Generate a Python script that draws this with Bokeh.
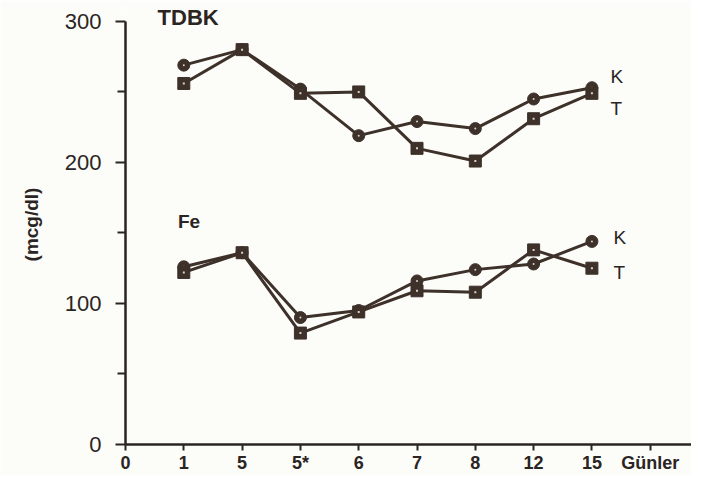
from bokeh.plotting import figure
from bokeh.models import FixedTicker, Label, Range1d
from bokeh.embed import file_html
from bokeh.resources import INLINE

# ---- data ----
day_labels = ["1", "5", "5*", "6", "7", "8", "12", "15"]
tick_labels = ["0"] + day_labels + ["Günler"]
tdbk_K = [269, 280, 252, 219, 229, 224, 245, 253]
tdbk_T = [256, 280, 249, 250, 210, 201, 231, 249]
fe_K = [126, 136, 90, 95, 116, 124, 128, 144]
fe_T = [122, 136, 79, 94, 109, 108, 138, 125]
y_ticks = [0, 100, 200, 300]
y_minor = [50, 150, 250]

xs = list(range(1, len(day_labels) + 1))
INK = "#3d312a"
AX = "#2a2522"
BG = "#fcfcf9"

p = figure(width=691, height=475, output_backend="svg", toolbar_location=None,
           x_range=Range1d(0, 9.708), y_range=Range1d(0, 312),
           min_border_left=125, min_border_right=0, min_border_top=4,
           min_border_bottom=30, background_fill_color=BG, border_fill_color=BG)
p.outline_line_color = None
p.grid.visible = False

# axes
p.xaxis.ticker = FixedTicker(ticks=list(range(len(tick_labels))))
p.xaxis.major_label_overrides = {i: t for i, t in enumerate(tick_labels)}
p.xaxis.major_tick_out = 6
p.xaxis.major_tick_in = 0
p.xaxis.major_label_standoff = 2
p.xaxis.major_label_text_font = "Liberation Sans"
p.xaxis.major_label_text_font_style = "bold"
p.xaxis.major_label_text_font_size = "18px"

p.yaxis.ticker = FixedTicker(ticks=y_ticks, minor_ticks=y_minor)
p.yaxis.bounds = (0, 300)
p.yaxis.major_tick_out = 10
p.yaxis.major_tick_in = 0
p.yaxis.minor_tick_out = 8
p.yaxis.minor_tick_in = 0
p.yaxis.major_label_standoff = 14
p.yaxis.major_label_text_font = "Liberation Sans"
p.yaxis.major_label_text_font_size = "22px"
p.yaxis.axis_label = "(mcg/dl)"
p.yaxis.axis_label_text_font = "Liberation Sans"
p.yaxis.axis_label_text_font_style = "bold"
p.yaxis.axis_label_text_font_size = "19px"
p.yaxis.axis_label_standoff = 20

for ax in (p.xaxis, p.yaxis):
    ax.axis_line_color = AX
    ax.axis_line_width = 2.5
    ax.major_tick_line_color = AX
    ax.major_tick_line_width = 2
    ax.minor_tick_line_width = 2
    ax.major_label_text_color = AX
    ax.axis_label_text_color = AX
p.xaxis.minor_tick_line_color = None
p.yaxis.minor_tick_line_color = AX

# series
for ys in (tdbk_K, fe_K):
    p.line(xs, ys, line_color=INK, line_width=3)
    p.scatter(xs, ys, marker="circle", size=12, fill_color=INK, line_color=INK)
    p.scatter(xs, ys, marker="circle", size=2, fill_color="#d8d2cc", line_color=None)
for ys in (tdbk_T, fe_T):
    p.line(xs, ys, line_color=INK, line_width=3)
    p.scatter(xs, ys, marker="square", size=12, fill_color=INK, line_color=INK)
    p.scatter(xs, ys, marker="square", size=2, fill_color="#d8d2cc", line_color=None)

# text labels
def lab(x, y, t, size, bold=False):
    p.add_layout(Label(x=x, y=y, text=t, text_font="Liberation Sans",
                       text_font_size=size, text_font_style="bold" if bold else "normal",
                       text_color=AX, text_baseline="middle", text_align="left"))

lab(0.55, 302.5, "TDBK", "22px", bold=True)
lab(0.9, 158, "Fe", "19px", bold=True)
lab(8.32, 261, "K", "19px")
lab(8.32, 238, "T", "19px")
lab(8.37, 146.5, "K", "19px")
lab(8.37, 122, "T", "19px")

open("out.html", "w").write(file_html(p, INLINE))
